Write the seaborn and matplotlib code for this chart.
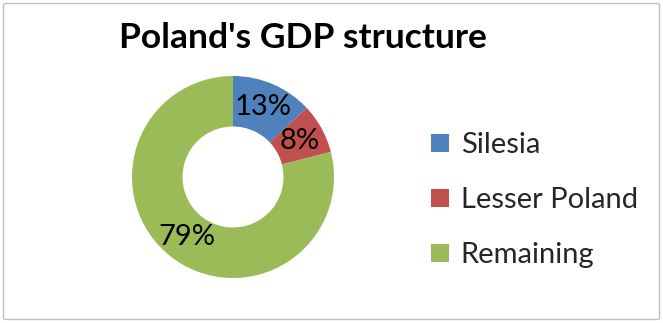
import matplotlib
matplotlib.use("Agg")
import matplotlib.pyplot as plt
from matplotlib.patches import FancyBboxPatch
from matplotlib.lines import Line2D
import seaborn as sns

# GDP shares by region (percent)
regions = ["Silesia", "Lesser Poland", "Remaining"]
shares = [13, 8, 79]
colors = ["#4F81BD", "#C0504D", "#9BBB59"]
title = "Poland's GDP structure"

sns.set_theme(style="white")
plt.rcParams["font.family"] = ["Lato", "DejaVu Sans"]

W, H = 663, 323
fig = plt.figure(figsize=(W / 100, H / 100), dpi=100)
fig.patch.set_facecolor("white")

# outer chart frame
frame = FancyBboxPatch((3.5 / W, 3.5 / H), (W - 7) / W, (H - 7) / H,
                       boxstyle="round,pad=0,rounding_size=0.004",
                       transform=fig.transFigure, facecolor="none",
                       edgecolor="#BFBFBF", linewidth=1.0)
fig.patches.append(frame)

# donut: center (233, 177) px, outer radius 101 px
cx, cy, r = 233, 177, 101
ax = fig.add_axes([(cx - r) / W, (H - cy - r) / H, 2 * r / W, 2 * r / H])
wedges, texts, autotexts = ax.pie(
    shares, colors=colors, startangle=90, counterclock=False,
    radius=1.0, wedgeprops=dict(width=0.5, linewidth=0),
    autopct=lambda p: f"{p:.0f}%", pctdistance=0.75,
    textprops=dict(fontsize=21, color="black"))
ax.set_xlim(-1, 1)
ax.set_ylim(-1, 1)
ax.set_aspect("equal")
ax.axis("off")

fig.text(303 / W, 1 - 48 / H, title, ha="center", va="baseline",
         fontsize=25.5, fontweight="bold", color="black")

handles = [Line2D([], [], linestyle="none", marker="s", markersize=13,
                  markerfacecolor=c, markeredgewidth=0) for c in colors]
fig.legend(handles, regions, loc="center left",
           bbox_to_anchor=(427 / W, 1 - 200 / H), frameon=False,
           fontsize=21, handlelength=0.9, handletextpad=0.25,
           labelspacing=1.0, borderpad=0, borderaxespad=0)

fig.savefig("out.png", dpi=100, facecolor="white")
